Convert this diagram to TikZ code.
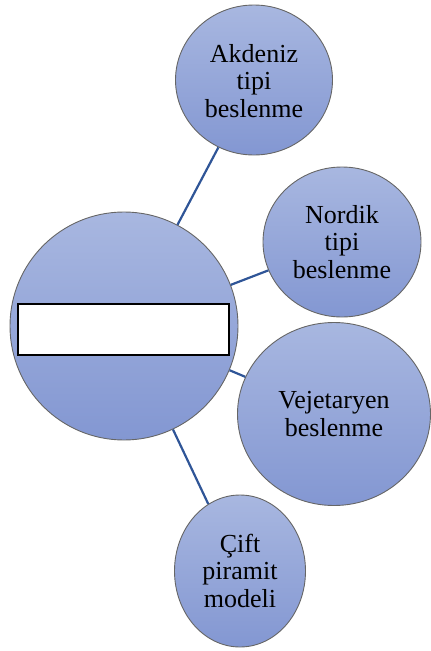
\documentclass[tikz,border=0pt]{standalone}
\usepackage{fontspec}
\setmainfont{Liberation Serif}
\newfontfamily\bubfont{Liberation Serif}
\usetikzlibrary{shapes.geometric}
\definecolor{bubtop}{HTML}{A8B7E0}
\definecolor{bubbot}{HTML}{8397D2}
\definecolor{bubedge}{HTML}{666666}
\definecolor{linkblue}{HTML}{2F5597}
\newcommand{\lowtext}[2]{\raisebox{-#1}[\height][\depth]{\begin{tabular}{@{}c@{}}#2\end{tabular}}}
\tikzset{
  bubble/.style={ellipse,draw=bubedge,line width=0.9pt,
                 top color=bubtop,bottom color=bubbot,
                 inner sep=0pt,align=center,
                 font=\bubfont\fontsize{26}{27.5}\selectfont},
  titlebox/.style={draw=black,fill=white,line width=1.2pt,
                   minimum width=211pt,minimum height=51pt,inner sep=0pt},
  link/.style={draw=linkblue,line width=2.2pt}
}

\begin{document}
\begin{tikzpicture}[x=1pt,y=-1pt]
  \useasboundingbox (0,0) rectangle (431,651);
  \node[bubble,minimum width=228pt,minimum height=228pt] (hub) at (124,326) {};
  \node[titlebox] (title) at (123.5,329.5) {};
  \node[bubble,minimum width=157pt,minimum height=150pt] (akdeniz) at (254,80) {\lowtext{4pt}{Akdeniz\\tipi\\beslenme}};
  \node[bubble,minimum width=158pt,minimum height=150pt] (nordik) at (342,242) {Nordik\\tipi\\beslenme};
  \node[bubble,minimum width=193pt,minimum height=183pt] (vejetaryen) at (334,414) {Vejetaryen\\beslenme};
  \node[bubble,minimum width=131pt,minimum height=152pt] (cift) at (240,571) {\lowtext{3pt}{Çift\\piramit\\modeli}};
  \draw[link] (hub) -- (akdeniz);
  \draw[link] (hub) -- (nordik);
  \draw[link] (hub) -- (vejetaryen);
  \draw[link] (hub) -- (cift);
\end{tikzpicture}
\end{document}
